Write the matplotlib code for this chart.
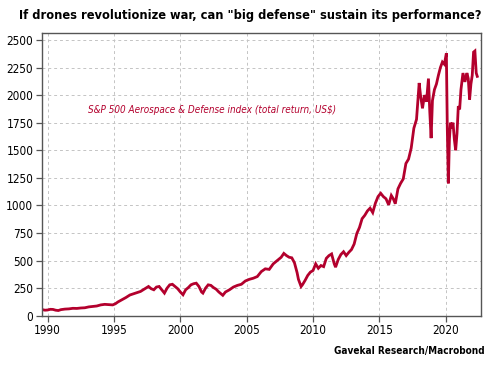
import matplotlib
matplotlib.use("Agg")
import matplotlib.pyplot as plt

plt.rcParams["font.family"] = ["DejaVu Sans"]
plt.rcParams["font.stretch"] = "condensed"

dates = [
    1989.6, 1989.8, 1990.0, 1990.2, 1990.4, 1990.6, 1990.8, 1991.0, 1991.3, 1991.6,
    1991.9, 1992.2, 1992.5, 1992.8, 1993.1, 1993.4, 1993.7, 1994.0, 1994.3, 1994.6,
    1994.9, 1995.1, 1995.3, 1995.6, 1995.9, 1996.2, 1996.5, 1996.8, 1997.0, 1997.2,
    1997.4, 1997.6, 1997.8, 1998.0, 1998.2, 1998.4, 1998.6, 1998.8, 1999.0, 1999.2,
    1999.4, 1999.6, 1999.8, 2000.0, 2000.2, 2000.4, 2000.6, 2000.8, 2001.0, 2001.2,
    2001.4, 2001.6, 2001.7, 2001.9, 2002.1, 2002.3, 2002.5, 2002.7, 2002.9, 2003.1,
    2003.2, 2003.4, 2003.7, 2004.0, 2004.3, 2004.6, 2004.9, 2005.2, 2005.5, 2005.8,
    2006.1, 2006.4, 2006.7, 2007.0, 2007.3, 2007.6, 2007.8, 2008.0, 2008.2, 2008.4,
    2008.6, 2008.8, 2008.9, 2009.1, 2009.2, 2009.4, 2009.6, 2009.8, 2010.0, 2010.2,
    2010.4, 2010.6, 2010.8, 2011.0, 2011.2, 2011.4, 2011.6, 2011.7, 2011.9, 2012.1,
    2012.3, 2012.5, 2012.7, 2012.9, 2013.1, 2013.3, 2013.5, 2013.7, 2013.9, 2014.1,
    2014.3, 2014.5, 2014.7, 2014.9, 2015.1, 2015.3, 2015.5, 2015.7, 2015.9, 2016.05,
    2016.2, 2016.4, 2016.6, 2016.8, 2017.0, 2017.2, 2017.4, 2017.6, 2017.8, 2018.0,
    2018.1, 2018.25, 2018.4, 2018.55, 2018.7, 2018.8, 2018.9, 2019.0, 2019.15, 2019.3,
    2019.45, 2019.6, 2019.75, 2019.9, 2020.05, 2020.12, 2020.2, 2020.28, 2020.36, 2020.45,
    2020.55, 2020.65, 2020.75, 2020.85, 2020.95, 2021.05, 2021.15, 2021.3, 2021.45, 2021.6,
    2021.7, 2021.8, 2021.9, 2022.0, 2022.1, 2022.2, 2022.3, 2022.38,
]
index_tr = [
    55, 50, 52, 58, 57, 50, 47, 55, 60, 62,
    67, 66, 70, 72, 80, 84, 88, 98, 103, 100,
    98, 108, 125, 145, 165, 188, 200, 212, 220, 235,
    250, 265, 245, 235, 260, 265, 235, 205, 250, 280,
    285, 265, 245, 215, 190, 235, 255, 280, 290, 295,
    265, 215, 205, 250, 280, 275, 255, 240, 215, 195,
    185, 215, 235, 260, 275, 285, 315, 330, 340, 355,
    400, 425, 420, 470, 500, 530, 565, 545, 530, 525,
    480, 390, 330, 265, 280, 320, 365, 395, 410, 470,
    430, 455, 445, 520, 545, 560, 470, 440, 510, 555,
    580, 545, 575, 600, 650, 745, 800, 880, 910, 950,
    975, 935, 1020, 1080, 1110, 1080, 1060, 1005, 1090, 1060,
    1015, 1150, 1200, 1240, 1380, 1420, 1520, 1700, 1780, 2110,
    2000, 1880, 2000, 1940, 2150, 1850, 1610, 1950, 2050, 2100,
    2180, 2250, 2300, 2280, 2380, 1700, 1200, 1600, 1750, 1700,
    1750, 1600, 1500, 1650, 1900, 1870, 2050, 2200, 2120, 2200,
    2150, 1960, 2100, 2180, 2390, 2400, 2200, 2170,
]

year_ticks = [1990, 1995, 2000, 2005, 2010, 2015, 2020]
value_ticks = [0, 250, 500, 750, 1000, 1250, 1500, 1750, 2000, 2250, 2500]

red = "#b3002d"

fig = plt.figure(figsize=(5, 3.66), dpi=100)
ax = fig.add_axes([0.0834, 0.1374, 0.8786, 0.7724])

ax.plot(dates, index_tr, color=red, lw=2.0, solid_joinstyle="miter")

ax.set_xlim(1989.55, 2022.66)
ax.set_ylim(0, 2563)
ax.set_xticks(year_ticks)
ax.set_yticks(value_ticks)
ax.grid(True, color="#c4c4c4", linestyle=(0, (3, 3)), lw=0.7)
ax.set_axisbelow(True)

for side in ["left", "bottom", "top", "right"]:
    ax.spines[side].set_color("#555555")
    ax.spines[side].set_linewidth(1.0)
ax.tick_params(axis="both", direction="out", length=4, width=0.9,
               color="#555555", labelsize=8.5, pad=2)

ax.text(0.105, 0.727, "S&P 500 Aerospace & Defense index (total return, US$)",
        transform=ax.transAxes, color=red, fontsize=7.1, style="italic",
        va="center")

fig.text(0.5, 0.959, "If drones revolutionize war, can \"big defense\" sustain its performance?",
         ha="center", va="center", fontsize=9.2, fontweight="bold")
fig.text(0.97, 0.041, "Gavekal Research/Macrobond", ha="right", va="center",
         fontsize=7.2, fontweight="bold")

fig.savefig("out.png", dpi=100)
